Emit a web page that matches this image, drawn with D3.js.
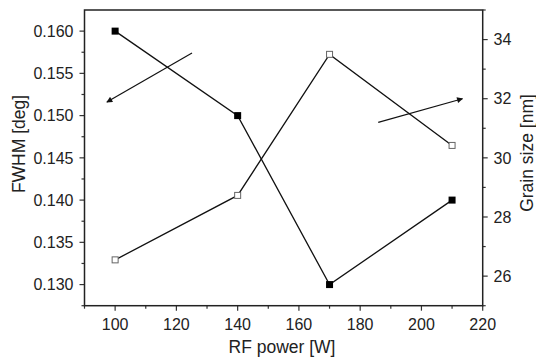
<!DOCTYPE html>
<html>
<head>
<meta charset="utf-8">
<script src="https://cdn.jsdelivr.net/npm/d3@7"></script>
<style>
  body { margin: 0; background: #fff; }
  svg text { font-family: "Liberation Sans", Arial, sans-serif; fill: #222; }
</style>
</head>
<body>
<svg id="chart" width="536" height="358"></svg>
<script>
const power = [100, 140, 170, 210]
const fwhm = [0.160, 0.150, 0.130, 0.140]
const grainSize = [26.55, 28.73, 33.5, 30.42]
const xTicks = [100, 120, 140, 160, 180, 200, 220]
const fwhmTicks = [0.130, 0.135, 0.140, 0.145, 0.150, 0.155, 0.160]
const grainTicks = [26, 28, 30, 32, 34]
// arrows: [x0, y0, x1, y1] in data units of their axis
const fwhmArrow = [125.1, 0.1574, 97.3, 0.1516]
const grainArrow = [185.9, 31.2, 213.4, 32.0]

const svg = d3.select('#chart')
const plotL = 84.5, plotR = 482.7, plotT = 10, plotB = 305.7

const x = d3.scaleLinear().domain([90, 220]).range([plotL, plotR])
const yL = d3.scaleLinear().domain([0.1275, 0.1625]).range([plotB, plotT])
const yR = d3.scaleLinear().domain([25, 35]).range([plotB, plotT])

svg.append('defs').append('marker')
  .attr('id', 'head')
  .attr('viewBox', '0 0 10 10')
  .attr('refX', 9).attr('refY', 5)
  .attr('markerWidth', 8).attr('markerHeight', 6)
  .attr('markerUnits', 'userSpaceOnUse')
  .attr('orient', 'auto')
  .append('path').attr('d', 'M0,0L10,5L0,10z').attr('fill', '#111')

// 刻度线（主/次）
const tickColor = '#333'
const xMinor = d3.range(90, 221, 10)
svg.append('g').selectAll('line').data(xMinor).join('line')
  .attr('x1', d => x(d)).attr('x2', d => x(d))
  .attr('y1', plotB).attr('y2', d => plotB + (d % 20 === 0 ? 5 : 3))
  .attr('stroke', tickColor).attr('stroke-width', 1.2)

const lMinor = d3.range(0, 14).map(i => 0.1275 + i * 0.0025)
svg.append('g').selectAll('line').data(lMinor).join('line')
  .attr('y1', d => yL(d)).attr('y2', d => yL(d))
  .attr('x1', plotL).attr('x2', (d, i) => plotL - (i % 2 === 1 ? 5 : 3))
  .attr('stroke', tickColor).attr('stroke-width', 1.2)

const rMinor = d3.range(25, 35.1, 1)
svg.append('g').selectAll('line').data(rMinor).join('line')
  .attr('y1', d => yR(d)).attr('y2', d => yR(d))
  .attr('x1', plotR).attr('x2', d => plotR + (d % 2 === 0 ? 5 : 3))
  .attr('stroke', tickColor).attr('stroke-width', 1.2)

// 刻度标签
const fs = '16px'
svg.append('g').selectAll('text').data(xTicks).join('text')
  .attr('x', d => x(d)).attr('y', 329.5)
  .attr('text-anchor', 'middle').style('font-size', fs)
  .text(d => d)

svg.append('g').selectAll('text').data(fwhmTicks).join('text')
  .attr('x', 73.5).attr('y', d => yL(d))
  .attr('dy', '0.36em')
  .attr('text-anchor', 'end').style('font-size', fs)
  .text(d => d3.format('.3f')(d))

svg.append('g').selectAll('text').data(grainTicks).join('text')
  .attr('x', 493.5).attr('y', d => yR(d))
  .attr('dy', '0.36em')
  .attr('text-anchor', 'start').style('font-size', fs)
  .text(d => d)

// 轴标题
svg.append('text')
  .attr('x', 282).attr('y', 353)
  .attr('text-anchor', 'middle').style('font-size', '17.5px')
  .text('RF power [W]')

svg.append('text')
  .attr('transform', 'translate(25, 144) rotate(-90)')
  .attr('text-anchor', 'middle').style('font-size', '17.5px')
  .text('FWHM [deg]')

svg.append('text')
  .attr('transform', 'translate(533, 153) rotate(-90)')
  .attr('text-anchor', 'middle').style('font-size', '17.5px')
  .text('Grain size [nm]')

// 数据线
const fData = power.map((p, i) => ({ p, v: fwhm[i] }))
const gData = power.map((p, i) => ({ p, v: grainSize[i] }))

svg.append('path').datum(fData)
  .attr('d', d3.line().x(d => x(d.p)).y(d => yL(d.v)))
  .attr('fill', 'none').attr('stroke', '#111').attr('stroke-width', 1.3)

svg.append('path').datum(gData)
  .attr('d', d3.line().x(d => x(d.p)).y(d => yR(d.v)))
  .attr('fill', 'none').attr('stroke', '#111').attr('stroke-width', 1.3)

svg.append('g').selectAll('rect').data(fData).join('rect')
  .attr('x', d => x(d.p) - 3.5).attr('y', d => yL(d.v) - 3.5)
  .attr('width', 7).attr('height', 7)
  .attr('fill', '#000')

svg.append('g').selectAll('rect').data(gData).join('rect')
  .attr('x', d => x(d.p) - 3).attr('y', d => yR(d.v) - 3)
  .attr('width', 6).attr('height', 6)
  .attr('fill', '#fff').attr('stroke', '#666').attr('stroke-width', 1)

// 箭头
svg.append('line')
  .attr('x1', x(fwhmArrow[0])).attr('y1', yL(fwhmArrow[1]))
  .attr('x2', x(fwhmArrow[2])).attr('y2', yL(fwhmArrow[3]))
  .attr('stroke', '#111').attr('stroke-width', 1.2)
  .attr('marker-end', 'url(#head)')

svg.append('line')
  .attr('x1', x(grainArrow[0])).attr('y1', yR(grainArrow[1]))
  .attr('x2', x(grainArrow[2])).attr('y2', yR(grainArrow[3]))
  .attr('stroke', '#111').attr('stroke-width', 1.2)
  .attr('marker-end', 'url(#head)')

// 边框
svg.append('rect')
  .attr('x', plotL).attr('y', plotT)
  .attr('width', plotR - plotL).attr('height', plotB - plotT)
  .attr('fill', 'none').attr('stroke', '#222').attr('stroke-width', 1.5)
</script>
</body>
</html>
